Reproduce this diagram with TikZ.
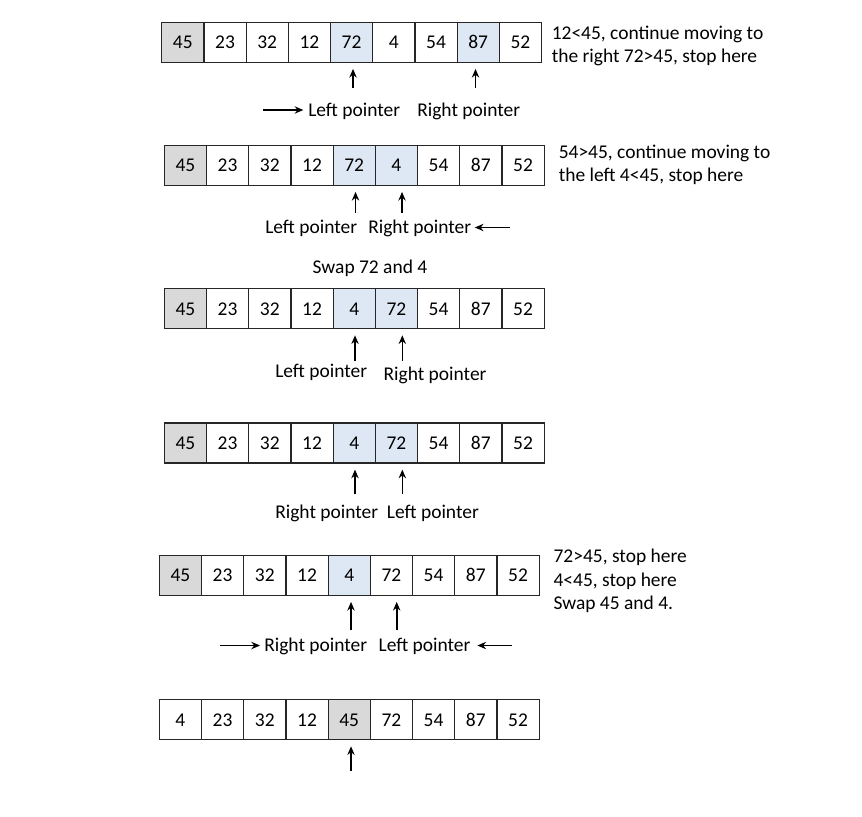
\documentclass[tikz,border=0pt]{standalone}
\usepackage{fontspec}
\setmainfont{Carlito}
\usetikzlibrary{arrows.meta,calc}
\definecolor{pivotgray}{RGB}{217,217,217}
\definecolor{ptrblue}{RGB}{222,232,244}
\tikzset{
  cell/.style={draw=black!85,line width=0.9pt,minimum width=31.65pt,minimum height=30pt,
    inner sep=0pt,text height=9.9pt,text depth=0pt,font=\fontsize{14.6}{17.6}\selectfont},
  pv/.style={fill=pivotgray},
  pl/.style={fill=white},
  hl/.style={fill=ptrblue},
  lbl/.style={inner sep=0pt,anchor=west,font=\fontsize{14.6}{17.6}\selectfont},
  up/.style={-{Stealth[length=6.5pt,width=5.5pt]},line width=1.2pt,shorten >=4.5pt},
  side/.style={-{Stealth[length=6.5pt,width=5.5pt]},line width=1.2pt}
}
\begin{document}
\begin{tikzpicture}[x=0.75pt,y=-0.75pt]
        \fill[white] (0,0) rectangle (862,816);
        \useasboundingbox (0,0) rectangle (862,816);
        % the six states of the array
        \foreach \v/\f [count=\i] in {45/pv,23/pl,32/pl,12/pl,72/hl,4/pl,54/pl,87/hl,52/pl}
            {\node[cell,\f] (r1-\i) at (161.7+42.2*\i-21.1,42.3) {\v};}
        \foreach \v/\f [count=\i] in {45/pv,23/pl,32/pl,12/pl,72/hl,4/hl,54/pl,87/pl,52/pl}
            {\node[cell,\f] (r2-\i) at (164.3+42.2*\i-21.1,165.3) {\v};}
        \foreach \v/\f [count=\i] in {45/pv,23/pl,32/pl,12/pl,4/hl,72/hl,54/pl,87/pl,52/pl}
            {\node[cell,\f] (r3-\i) at (164.3+42.2*\i-21.1,308.7) {\v};}
        \foreach \v/\f [count=\i] in {45/pv,23/pl,32/pl,12/pl,4/hl,72/hl,54/pl,87/pl,52/pl}
            {\node[cell,\f] (r4-\i) at (164.3+42.2*\i-21.1,443.0) {\v};}
        \foreach \v/\f [count=\i] in {45/pv,23/pl,32/pl,12/pl,4/hl,72/pl,54/pl,87/pl,52/pl}
            {\node[cell,\f] (r5-\i) at (159.3+42.2*\i-21.1,575.3) {\v};}
        \foreach \v/\f [count=\i] in {4/pl,23/pl,32/pl,12/pl,45/pv,72/pl,54/pl,87/pl,52/pl}
            {\node[cell,\f] (r6-\i) at (159.3+42.2*\i-21.1,719.7) {\v};}
        % row 1
        \coordinate (t1a) at (353,88);
        \coordinate (t1b) at (475.5,88);
        \draw[up] (t1a) -- (t1a |- r1-5.south);
        \draw[up] (t1b) -- (t1b |- r1-8.south);
        \node[lbl] (lp1) at (308,111) {Left pointer};
        \node[lbl] (rp1) at (417,111) {Right pointer};
        \coordinate (s1) at (263,110);
        \draw[side,shorten >=3.5pt] (s1) -- (s1 -| lp1.west);
        \node[lbl,align=left] (n1) at (551.5,46) {12<45, continue moving to\\the right 72>45, stop here};
        % row 2
        \coordinate (t2a) at (355.5,213);
        \coordinate (t2b) at (402,213);
        \draw[up] (t2a) -- (t2a |- r2-5.south);
        \draw[up] (t2b) -- (t2b |- r2-6.south);
        \node[lbl] (lp2) at (265,228) {Left pointer};
        \node[lbl] (rp2) at (368,228) {Right pointer};
        \coordinate (s2) at (510,227.5);
        \draw[side,shorten >=2.5pt] (s2) -- (s2 -| rp2.east);
        \node[lbl,align=left] (n2) at (558.5,165) {54>45, continue moving to\\the left 4<45, stop here};
        \node[lbl,anchor=center] (sw) at (370,268.5) {Swap 72 and 4};
        % row 3
        \coordinate (t3a) at (355,361);
        \coordinate (t3b) at (402.3,361);
        \draw[up] (t3a) -- (t3a |- r3-5.south);
        \draw[up] (t3b) -- (t3b |- r3-6.south);
        \node[lbl] (lp3) at (275,372) {Left pointer};
        \node[lbl] (rp3) at (383.3,375.5) {Right pointer};
        % row 4
        \coordinate (t4a) at (355,494);
        \coordinate (t4b) at (402.3,494);
        \draw[up] (t4a) -- (t4a |- r4-5.south);
        \draw[up] (t4b) -- (t4b |- r4-6.south);
        \node[lbl] (rp4) at (275,513) {Right pointer};
        \node[lbl] (lp4) at (386.7,513) {Left pointer};
        % row 5
        \coordinate (t5a) at (351,630);
        \coordinate (t5b) at (396.7,630);
        \draw[up] (t5a) -- (t5a |- r5-5.south);
        \draw[up] (t5b) -- (t5b |- r5-6.south);
        \node[lbl] (rp5) at (264,646.5) {Right pointer};
        \node[lbl] (lp5) at (378.3,646.5) {Left pointer};
        \coordinate (s5a) at (220,645.5);
        \coordinate (s5b) at (511.7,645.5);
        \draw[side,shorten >=3pt] (s5a) -- (s5a -| rp5.west);
        \draw[side,shorten >=5pt] (s5b) -- (s5b -| lp5.east);
        \node[lbl,align=left] (n5) at (553.3,581) {72>45, stop here\\4<45, stop here\\Swap 45 and 4.};
        % row 6
        \coordinate (t6a) at (351,771);
        \draw[up] (t6a) -- (t6a |- r6-5.south);
\end{tikzpicture}
\end{document}
